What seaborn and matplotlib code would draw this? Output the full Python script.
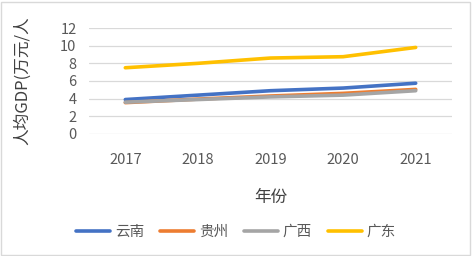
import matplotlib
matplotlib.use("Agg")
import matplotlib.pyplot as plt
import seaborn as sns
import pandas as pd
from matplotlib.patches import Rectangle

years = ["2017", "2018", "2019", "2020", "2021"]
provinces = ["云南", "贵州", "广西", "广东"]
yunnan = [3.9, 4.4, 4.9, 5.2, 5.75]
guizhou = [3.55, 3.95, 4.3, 4.6, 5.05]
guangxi = [3.6, 3.9, 4.2, 4.4, 4.9]
guangdong = [7.5, 8.0, 8.6, 8.75, 9.8]
colors = ["#4472C4", "#ED7D31", "#A5A5A5", "#FFC000"]

sns.set_theme(style="white")
plt.rcParams['font.family'] = ['Noto Sans CJK SC', 'DejaVu Sans']

rows = []
for name, vals in zip(provinces, [yunnan, guizhou, guangxi, guangdong]):
    for i, (y, v) in enumerate(zip(years, vals)):
        rows.append({"year": y, "idx": i, "province": name, "value": v})
df = pd.DataFrame(rows)

fig = plt.figure(figsize=(4.72, 2.56), dpi=100)
ax = fig.add_axes([0.1886, 0.4766, 0.769, 0.414])

sns.lineplot(data=df, x="idx", y="value", hue="province", hue_order=provinces,
             palette=colors, linewidth=2.6, ax=ax, legend=False, sort=False)

ax.set_xlim(-0.5, 4.5)
ax.set_ylim(0, 12)
ax.set_yticks(range(0, 13, 2))
ax.set_xticks(range(len(years)))
ax.set_xticklabels(years)
ax.grid(axis="y", color="#D9D9D9", linewidth=0.9)
ax.grid(axis="x", visible=False)
for s in ax.spines.values():
    s.set_visible(False)
ax.tick_params(axis="both", length=0, labelsize=10.5, colors="#595959")
ax.tick_params(axis="x", pad=14)
ax.tick_params(axis="y", pad=9)
ax.set_xlabel("年份", fontsize=12, color="#404040")
ax.xaxis.set_label_coords(0.5, -0.52)
ax.set_ylabel("人均GDP(万元/人", fontsize=12, color="#404040")
ax.yaxis.set_label_coords(-0.16, 0.5)

handles = [plt.Line2D([0], [0], color=c, linewidth=2.6) for c in colors]
fig.legend(handles, provinces, loc="center", bbox_to_anchor=(0.50, 0.094), ncol=4,
           frameon=False, fontsize=10.5, handlelength=2.35, columnspacing=1.1,
           handletextpad=0.3, labelcolor="#595959")

fig.patches.append(Rectangle((0.002, 0.004), 0.994, 0.99, transform=fig.transFigure,
                             fill=False, edgecolor="#D9D9D9", linewidth=1))

fig.savefig("out.png", dpi=100)
